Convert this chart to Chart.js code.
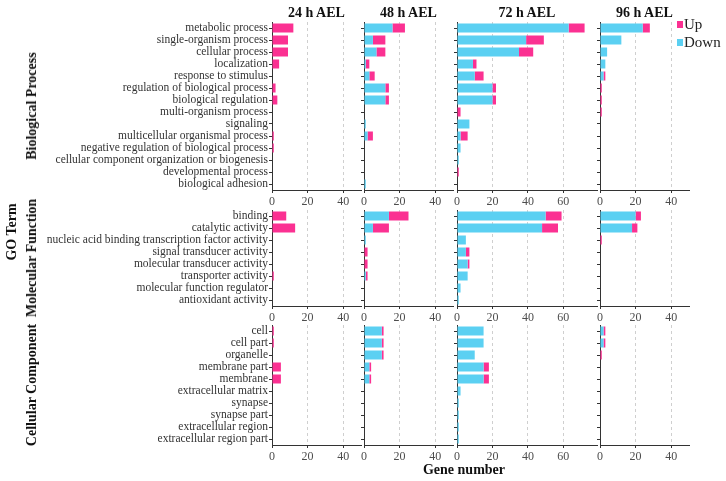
<!DOCTYPE html>
<html>
<head>
<meta charset="utf-8">
<script src="https://cdn.jsdelivr.net/npm/chart.js@4.4.1/dist/chart.umd.min.js"></script>
<style>
  body { margin: 0; background: #fff; }
  #wrap { position: relative; width: 726px; height: 481px; font-family: "Liberation Serif", "Times New Roman", serif; overflow: hidden; }
  .box { position: absolute; }
  .lab { position: absolute; font-weight: bold; color: #111; white-space: nowrap; font-size: 14px; line-height: 1; }
  .rot { transform: translate(-50%, -50%) rotate(-90deg); }
  .ctr { transform: translate(-50%, -50%); }
  .key { position: absolute; width: 6px; height: 7px; }
  .ktxt { position: absolute; font-size: 15px; color: #222; line-height: 1; }
</style>
</head>
<body>
<div id="wrap"></div>
<script>
// Datos
const times = ["24 h AEL", "48 h AEL", "72 h AEL", "96 h AEL"];

const bpTerms = [
  "metabolic process", "single-organism process", "cellular process", "localization",
  "response to stimulus", "regulation of biological process", "biological regulation",
  "multi-organism process", "signaling", "multicellular organismal process",
  "negative regulation of biological process",
  "cellular component organization or biogenesis", "developmental process", "biological adhesion"
];
const mfTerms = [
  "binding", "catalytic activity", "nucleic acid binding transcription factor activity",
  "signal transducer activity", "molecular transducer activity", "transporter activity",
  "molecular function regulator", "antioxidant activity"
];
const ccTerms = [
  "cell", "cell part", "organelle", "membrane part", "membrane", "extracellular matrix",
  "synapse", "synapse part", "extracellular region", "extracellular region part"
];

// one list per time point: 24h, 48h, 72h, 96h
const bpDown = [
  [0, 0, 0, 0, 0, 0, 0, 0, 0, 0, 0, 0, 0, 0],
  [16, 5, 7, 1, 3, 12, 12, 0, 1, 2, 0, 0, 0, 1],
  [63, 39, 35, 9, 10, 20, 20, 0, 7, 2, 2, 1, 0, 0],
  [24, 12, 4, 3, 2, 0, 0, 0, 0, 0, 0, 0, 0, 0]
];
const bpUp = [
  [12, 9, 9, 4, 0, 2, 3, 0, 0, 1, 1, 0, 0, 0],
  [7, 7, 5, 2, 3, 2, 2, 0, 0, 3, 0, 0, 0, 0],
  [9, 10, 8, 2, 5, 2, 2, 2, 0, 4, 0, 0, 1, 0],
  [4, 0, 0, 0, 1, 1, 1, 1, 0, 0, 0, 0, 0, 0]
];
const mfDown = [
  [0, 0, 0, 0, 0, 0, 0, 0],
  [14, 5, 1, 0, 0, 1, 0, 0],
  [50, 48, 5, 5, 6, 6, 2, 1],
  [20, 18, 0, 0, 0, 0, 0, 0]
];
const mfUp = [
  [8, 13, 0, 0, 0, 1, 0, 0],
  [11, 9, 0, 2, 2, 1, 0, 0],
  [9, 9, 0, 2, 1, 0, 0, 0],
  [3, 3, 1, 0, 0, 0, 0, 0]
];
const ccDown = [
  [0, 0, 0, 0, 0, 0, 0, 0, 0, 0],
  [10, 10, 10, 3, 3, 0, 0, 0, 0, 0],
  [15, 15, 10, 15, 15, 2, 1, 1, 1, 1],
  [2, 2, 0, 0, 0, 0, 0, 0, 0, 0]
];
const ccUp = [
  [1, 1, 0, 5, 5, 0, 0, 0, 0, 0],
  [1, 1, 1, 1, 1, 0, 0, 0, 0, 0],
  [0, 0, 0, 3, 3, 0, 0, 0, 0, 0],
  [1, 1, 1, 0, 0, 0, 0, 0, 0, 0]
];

const xMax = [50, 50, 79, 50];

// Colores
const pink = "#FB3192";
const cyan = "#5BD0F2";

// Layout
const wrap = document.getElementById("wrap");
const colLeft = [272, 364, 457, 600];
const colRight = [361, 453, 597, 689];
const rows = [
  { labels: bpTerms, down: bpDown, up: bpUp, top: 22, bottom: 190, strip: "Biological Process" },
  { labels: mfTerms, down: mfDown, up: mfUp, top: 210, bottom: 306, strip: "Molecular Function" },
  { labels: ccTerms, down: ccDown, up: ccUp, top: 325, bottom: 445, strip: "Cellular Component" }
];
const PAD_T = 12, AXIS_H = 22, PAD_R = 12;

function label(text, x, y, cls, size) {
  const d = document.createElement("div");
  d.className = "lab " + cls;
  d.textContent = text;
  d.style.left = x + "px";
  d.style.top = y + "px";
  if (size) d.style.fontSize = size + "px";
  wrap.appendChild(d);
}

rows.forEach((row, r) => {
  times.forEach((t, c) => {
    const first = c === 0;
    const left = first ? 0 : colLeft[c] - 8;
    const yW = colLeft[c] - left;
    const w = colRight[c] - left + PAD_R;
    const top = row.top - PAD_T;
    const h = row.bottom - row.top + PAD_T + AXIS_H;

    const box = document.createElement("div");
    box.className = "box";
    box.style.cssText = "left:" + left + "px;top:" + top + "px;width:" + w + "px;height:" + h + "px;";
    const cv = document.createElement("canvas");
    box.appendChild(cv);
    wrap.appendChild(box);

    new Chart(cv, {
      type: "bar",
      data: {
        labels: row.labels,
        datasets: [
          { label: "Down", data: row.down[c], backgroundColor: cyan, barPercentage: 0.75, categoryPercentage: 1 },
          { label: "Up", data: row.up[c], backgroundColor: pink, barPercentage: 0.75, categoryPercentage: 1 }
        ]
      },
      options: {
        indexAxis: "y",
        responsive: true,
        maintainAspectRatio: false,
        animation: false,
        devicePixelRatio: 1,
        layout: { padding: { top: PAD_T, right: PAD_R, left: 0, bottom: 0 } },
        plugins: { legend: { display: false }, tooltip: { enabled: false } },
        scales: {
          x: {
            stacked: true,
            min: 0,
            max: xMax[c],
            ticks: {
              stepSize: 20,
              includeBounds: false,
              maxRotation: 0,
              padding: 2,
              color: "#4d4d4d",
              font: { family: "Liberation Serif", size: 12 }
            },
            grid: {
              color: ctx => (ctx.tick && ctx.tick.value === 0) ? "rgba(0,0,0,0)" : "#cfcfcf",
              tickColor: "#333",
              tickLength: 3
            },
            border: { color: "#333", dash: [3, 3] },
            afterFit: s => { s.height = AXIS_H; }
          },
          y: {
            stacked: true,
            ticks: {
              display: first,
              autoSkip: false,
              padding: 1,
              color: "#333",
              font: { family: "Liberation Serif", size: 11.5 }
            },
            grid: { drawOnChartArea: false, offset: false, tickColor: "#333", tickLength: 3 },
            border: { color: "#333" },
            afterFit: s => { s.width = yW; }
          }
        }
      }
    });
  });

  label(row.strip, 32, (row.top + row.bottom) / 2, "rot", 14);
});

// Títulos
times.forEach((t, c) => label(t, (colLeft[c] + colRight[c]) / 2, 13, "ctr", 14));
label("GO Term", 12, 232, "rot", 14);
label("Gene number", 464, 470, "ctr", 14);

// Leyenda
[["Up", pink, 25], ["Down", cyan, 43]].forEach(([txt, col, y]) => {
  const k = document.createElement("div");
  k.className = "key";
  k.style.cssText = "left:677px;top:" + (y - 4) + "px;background:" + col + ";";
  wrap.appendChild(k);
  const s = document.createElement("div");
  s.className = "ktxt";
  s.textContent = txt;
  s.style.left = "684px";
  s.style.top = (y - 8) + "px";
  wrap.appendChild(s);
});
</script>
</body>
</html>
